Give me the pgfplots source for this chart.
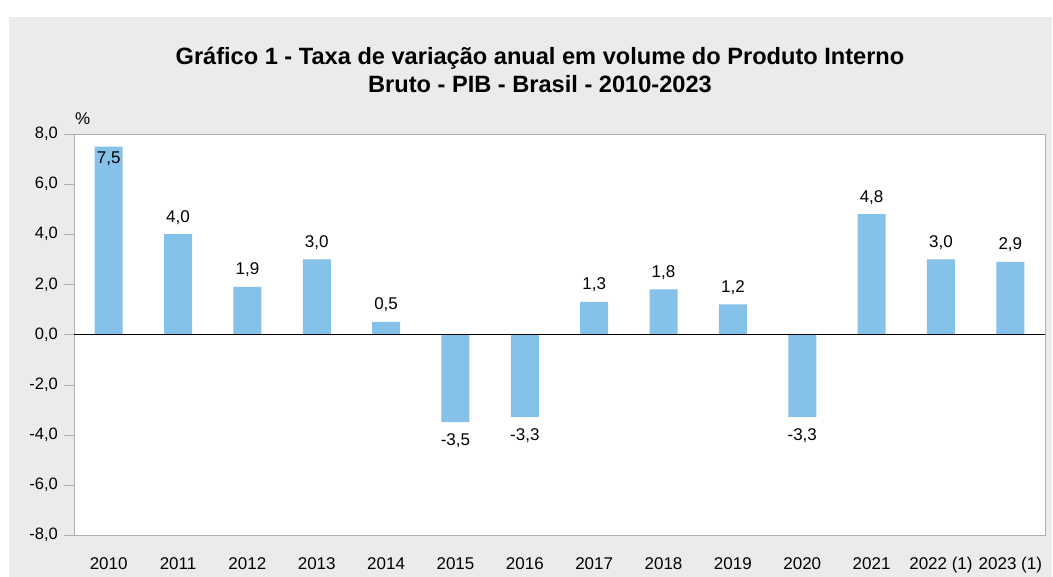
\documentclass[border=0pt]{standalone}
\usepackage{pgfplots}
\pgfplotsset{compat=1.18}
\usepackage{pgfplotstable}
\usepackage{fontspec}
\setmainfont{Liberation Sans}
\definecolor{bg}{RGB}{235,235,235}
\definecolor{barblue}{RGB}{133,193,233}
\definecolor{framegray}{RGB}{175,175,175}
\pgfplotstableread{
x y dy
0 7.5 -12
1 4.0 17
2 1.9 17
3 3.0 17
4 0.5 17
5 -3.5 -18
6 -3.3 -18
7 1.3 17
8 1.8 17
9 1.2 17
10 -3.3 -18
11 4.8 17
12 3.0 17
13 2.9 17
}\pibdata
\begin{document}
\begin{tikzpicture}[x=1pt,y=1pt]
\path[use as bounding box] (0,0) rectangle (1053,-577);
\fill[bg] (9,-17) rectangle (1052,-577);
\node[font=\fontsize{23.6}{28}\selectfont\bfseries, anchor=base] at (540,-65) {Gráfico 1 - Taxa de variação anual em volume do Produto Interno};
\node[font=\fontsize{23.6}{28}\selectfont\bfseries, anchor=base] at (540,-93) {Bruto - PIB - Brasil - 2010-2023};
\node[font=\fontsize{17}{20}\selectfont, anchor=base west, inner sep=0pt] at (75,-125) {\%};
\begin{axis}[
  at={(74pt,-535pt)}, anchor=south west,
  width=971pt, height=401pt, scale only axis,
  axis background/.style={fill=white},
  xmin=-0.5, xmax=13.5, ymin=-8, ymax=8,
  ytick={-8,-6,-4,-2,0,2,4,6,8},
  xtick={0,1,2,3,4,5,6,7,8,9,10,11,12,13},
  xticklabels={2010,2011,2012,2013,2014,2015,2016,2017,2018,2019,2020,2021,2022 (1),2023 (1)},
  /pgf/number format/assume math mode=true,
  yticklabel style={/pgf/number format/fixed, /pgf/number format/fixed zerofill, /pgf/number format/precision=1, /pgf/number format/use comma},
  xticklabel style={font=\fontsize{17}{20}\selectfont, inner sep=0pt, anchor=north, yshift=-12pt},
  yticklabel style={font=\fontsize{16.5}{19}\selectfont, inner sep=0pt, anchor=east, xshift=-6pt},
  xtick style={draw=none},
  ytick style={draw=framegray},
  ytick pos=left,
  tick align=outside, major tick length=10pt,
  axis line style={draw=framegray},
  clip=false,
]
\addplot[ybar, bar width=28pt, fill=barblue, draw=none,
  point meta=y,
  nodes near coords={\pgfmathprintnumber[fixed,fixed zerofill,precision=1,use comma]{\pgfplotspointmeta}},
  nodes near coords align=center,
  visualization depends on={\thisrow{dy} \as \dy},
  every node near coord/.append style={font=\fontsize{17}{20}\selectfont, yshift=\dy, text=black}
] table[x=x, y=y] {\pibdata};
\addplot[black, line width=0.8pt, forget plot, mark=none] coordinates {(-0.5,0) (13.5,0)};
\end{axis}
\end{tikzpicture}
\end{document}
